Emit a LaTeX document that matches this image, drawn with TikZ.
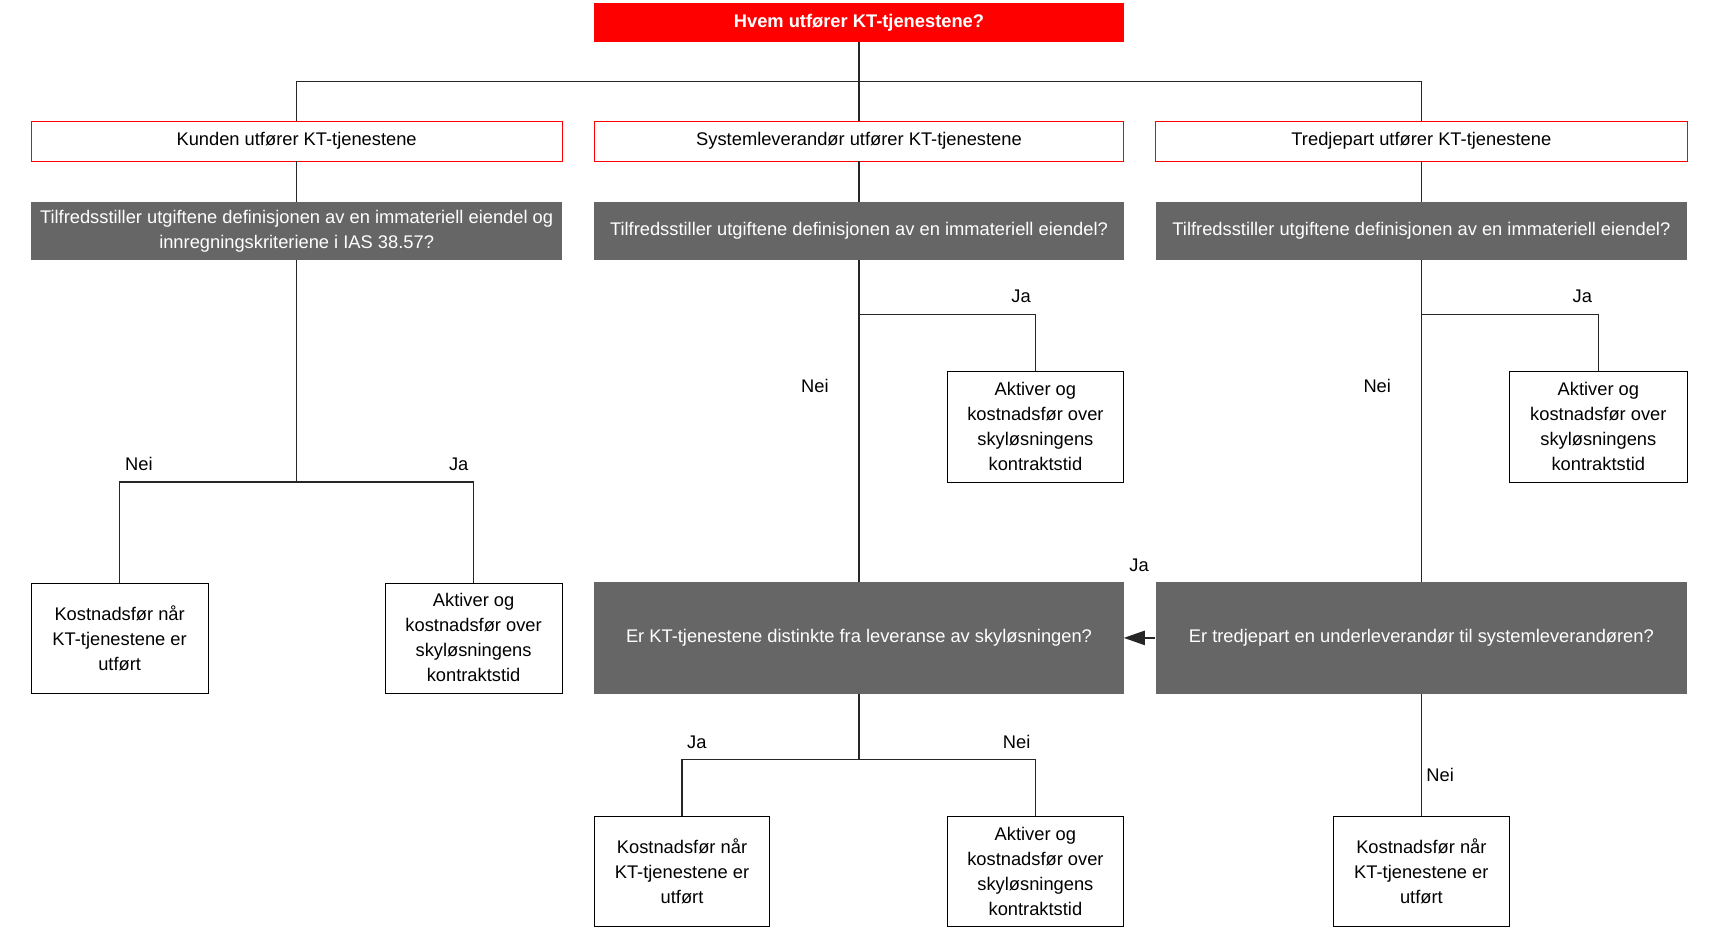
\documentclass[tikz,border=0pt]{standalone}
\usepackage{fontspec}
\setmainfont{Liberation Sans}
\usetikzlibrary{arrows.meta, calc}
\definecolor{qred}{HTML}{FF0000}
\definecolor{qgray}{HTML}{666666}
\tikzset {
    base/.style = {align = center, inner sep = 0pt, font = \fontsize{16.6}{22.7}\selectfont},
    head box/.style = {base, fill = qred, text = white, minimum width = 480pt, minimum height = 35pt, font = \fontsize{16.6}{22.7}\selectfont\bfseries},
    who box/.style = {base, draw = qred, fill = white, minimum width = #1, minimum height = 36pt},
    question/.style = {base, fill = qgray, text = white, minimum width = #1},
    outcome/.style = {base, draw = black, fill = white, minimum width = #1, minimum height = 100pt},
    answer/.style = {base},
    link/.style = {draw = black!85, line width = 1.3pt},
    %
    jump/.style = {link, arrows = {-Triangle[length = 19pt, width = 13pt]}}
}

\begin{document}
\begin{tikzpicture}[x = 1pt, y = -1pt]
    \useasboundingbox (0, 0) rectangle (1568, 845);
    \node (top) [head box] at (779, 20.5) {Hvem utfører KT-tjenestene?};
    \node (k1) [who box = 482pt] at (269, 128) {Kunden utfører KT-tjenestene};
    \node (s1) [who box = 480pt] at (779, 128) {Systemleverandør utfører KT-tjenestene};
    \node (t1) [who box = 482pt] at (1289, 128) {Tredjepart utfører KT-tjenestene};
    \node (kq) [question = 482pt, minimum height = 53pt] at (269, 209.5)
        {Tilfredsstiller utgiftene definisjonen av en immateriell eiendel og\\innregningskriteriene i IAS 38.57?};
    \node (sq) [question = 480pt, minimum height = 53pt] at (779, 209.5)
        {Tilfredsstiller utgiftene definisjonen av en immateriell eiendel?};
    \node (tq) [question = 482pt, minimum height = 53pt] at (1289, 209.5)
        {Tilfredsstiller utgiftene definisjonen av en immateriell eiendel?};
    \node (ka) [outcome = 161pt] at (108.5, 578.5) {Kostnadsfør når\\KT-tjenestene er\\utført};
    \node (kb) [outcome = 161pt] at (429.5, 578.5) {Aktiver og\\kostnadsfør over\\skyløsningens\\kontraktstid};
    \node (sa) [outcome = 160pt] at (939, 387) {Aktiver og\\kostnadsfør over\\skyløsningens\\kontraktstid};
    \node (ta) [outcome = 161pt] at (1449.5, 387) {Aktiver og\\kostnadsfør over\\skyløsningens\\kontraktstid};
    \node (sq2) [question = 480pt, minimum height = 101pt] at (779, 578.5)
        {Er KT-tjenestene distinkte fra leveranse av skyløsningen?};
    \node (tq2) [question = 482pt, minimum height = 101pt] at (1289, 578.5)
        {Er tredjepart en underleverandør til systemleverandøren?};
    \node (sb) [outcome = 159pt] at (618.5, 790) {Kostnadsfør når\\KT-tjenestene er\\utført};
    \node (sc) [outcome = 160pt] at (939, 790) {Aktiver og\\kostnadsfør over\\skyløsningens\\kontraktstid};
    \node (tb) [outcome = 160pt] at (1289, 790) {Kostnadsfør når\\KT-tjenestene er\\utført};
    \coordinate (hub) at (779, 74);
    \coordinate (kfork) at (269, 437);
    \coordinate (sfork) at (779, 285);
    \coordinate (tfork) at (1289, 285);
    \coordinate (sfork2) at (779, 689);
    \draw [link] (top) -- (s1);
    \draw [link] (k1.north) |- (hub) -| (t1.north);
    \draw [link] (k1) -- (kq);
    \draw [link] (s1) -- (sq);
    \draw [link] (t1) -- (tq);
    \draw [link] (kq.south) -- (kfork);
    \draw [link] (ka.north) |- (kfork) -| (kb.north);
    \draw [link] (sq.south) -- (sq2.north);
    \draw [link] (sfork) -| (sa.north);
    \draw [link] (tq.south) -- (tq2.north);
    \draw [link] (tfork) -| (ta.north);
    \draw [jump] (tq2.west) -- (sq2.east);
    \draw [link] (sq2.south) -- (sfork2);
    \draw [link] (sb.north) |- (sfork2) -| (sc.north);
    \draw [link] (tq2.south) -- (tb.north);
    \node (knei) [answer] at (126, 421) {Nei};
    \node (kja) [answer] at (416, 421) {Ja};
    \node (sja) [answer] at (926, 269) {Ja};
    \node (snei) [answer] at (739, 350) {Nei};
    \node (tja) [answer] at (1435, 269) {Ja};
    \node (tnei) [answer] at (1249, 350) {Nei};
    \node (arja) [answer] at (1033, 513) {Ja};
    \node (sja2) [answer] at (632, 673) {Ja};
    \node (snei2) [answer] at (922, 673) {Nei};
    \node (tnei2) [answer] at (1306, 703) {Nei};
\end{tikzpicture}
\end{document}
